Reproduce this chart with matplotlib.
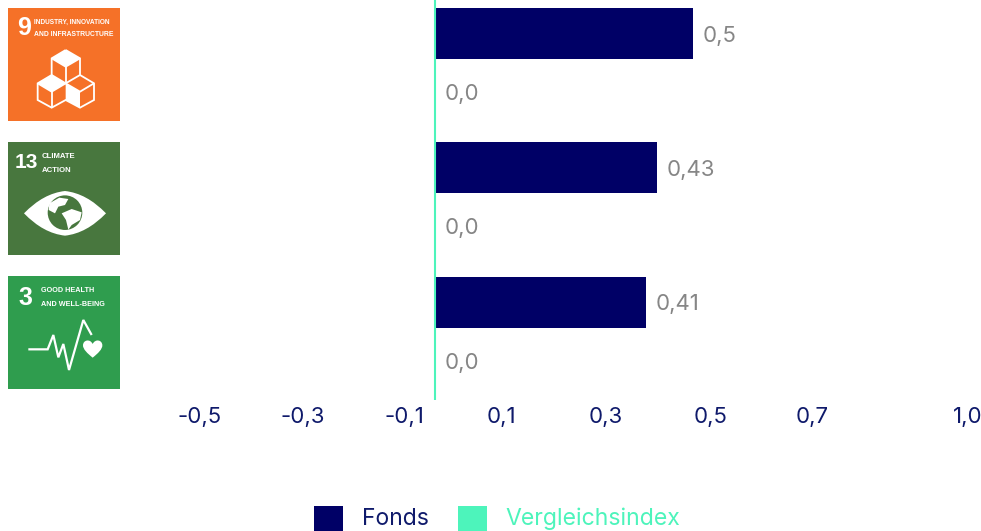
import matplotlib
matplotlib.use("Agg")
import matplotlib.pyplot as plt
from matplotlib.patches import Rectangle, Circle, Polygon, PathPatch
from matplotlib.path import Path

# Data
goals = ["SDG 9", "SDG 13", "SDG 3"]
fonds = [0.5, 0.43, 0.41]
index = [0.0, 0.0, 0.0]
fonds_labels = ["0,5", "0,43", "0,41"]
index_labels = ["0,0", "0,0", "0,0"]
tick_pos = [-0.457, -0.257, -0.06, 0.128, 0.332, 0.534, 0.732, 1.034]
tick_labels = ["-0,5", "-0,3", "-0,1", "0,1", "0,3", "0,5", "0,7", "1,0"]

NAVY = "#000066"
TICK = "#0F1A6B"
MINT = "#4DF4BB"
GREY = "#868686"
FONT = ["Inter", "DejaVu Sans"]
NARROW = ["Liberation Sans", "DejaVu Sans"]

W, H = 981, 531
fig = plt.figure(figsize=(W / 100, H / 100), dpi=100)
plt.rcParams["font.family"] = FONT

# Bars, pixel layout: x=0 at 435, 515.5 px per unit, 134.4 px per group
ax = fig.add_axes([120 / W, 1 - 400 / H, (W - 120) / W, 400 / H])
ax.set_xlim((120 - 435) / 515.5, (W - 435) / 515.5)
ax.set_ylim((400 - 62.75) / 134.4, -62.75 / 134.4)
ys = list(range(len(goals)))
ax.barh([y - 0.2176 for y in ys], fonds, height=0.38, color=NAVY)
ax.barh([y + 0.2176 for y in ys], index, height=0.38, color=MINT)
ax.axvline(0, color=MINT, lw=1.5)
for y, v, s in zip(ys, fonds, fonds_labels):
    ax.annotate(s, (v, y - 0.2176), xytext=(7, -1.5), textcoords="offset points",
                va="center", ha="left", color=GREY, fontsize=16)
for y, v, s in zip(ys, index, index_labels):
    ax.annotate(s, (v, y + 0.2176), xytext=(7, -1.5), textcoords="offset points",
                va="center", ha="left", color=GREY, fontsize=16)
ax.set_xticks(tick_pos)
ax.set_xticklabels(tick_labels, color=TICK, fontsize=16)
ax.tick_params(axis="x", length=0, pad=5)
ax.set_yticks([])
for sp in ax.spines.values():
    sp.set_visible(False)
ax.patch.set_alpha(0)

# Overlay in pixel coordinates for the icons and the legend
ov = fig.add_axes([0, 0, 1, 1], zorder=3)
ov.set_xlim(0, W)
ov.set_ylim(H, 0)
ov.axis("off")


def pts(coords, dy):
    return [(x / 3, y / 3 + dy) for x, y in coords]


def line(coords, dy, lw=1.3):
    xs, ys_ = zip(*pts(coords, dy))
    ov.plot(xs, ys_, color="white", lw=lw, solid_joinstyle="miter", solid_capstyle="butt")


def fill(coords, dy):
    ov.add_patch(Polygon(pts(coords, dy), closed=True, fc="white", ec="none"))


def squeezed(x, y, s, size):
    ov.text(x, y, s, color="white", fontsize=size, family=NARROW, weight="bold",
            va="center", ha="left")


# SDG 9
ov.add_patch(Rectangle((8, 8), 112, 113, fc="#F57128", ec="none"))
squeezed(17.5, 28, "9", 18)
squeezed(34.5, 22.5, "INDUSTRY, INNOVATION", 4.7)
squeezed(34.5, 35, "AND INFRASTRUCTURE", 4.9)
fill([(197, 150), (240, 175), (197, 200), (155, 175)], 0)
fill([(155, 225), (197, 250), (155, 275), (113, 250)], 0)
fill([(197, 250), (240, 275), (240, 323), (197, 300)], 0)
line([(197, 150), (240, 175), (240, 225), (282, 250), (282, 300), (240, 323), (197, 300),
      (155, 323), (113, 300), (113, 250), (155, 225), (155, 175), (197, 150)], 0)
line([(155, 175), (197, 200), (240, 175)], 0)
line([(197, 200), (197, 250)], 0)
line([(155, 225), (197, 250), (240, 225)], 0)
line([(113, 250), (155, 275), (197, 250)], 0)
line([(155, 275), (155, 323)], 0)
line([(197, 250), (240, 275), (282, 250)], 0)

# SDG 13
ov.add_patch(Rectangle((8, 142), 112, 113, fc="#48773E", ec="none"))
squeezed(15, 163, "13", 15)
squeezed(42, 156.5, "CLIMATE", 5.6)
squeezed(42, 170, "ACTION", 5.6)
eye = [(72, 235), (130, 175), (195, 168), (260, 175), (318, 235), (260, 295), (195, 302), (130, 295), (72, 235)]
codes = [Path.MOVETO] + [Path.CURVE3] * 8
ov.add_patch(PathPatch(Path(pts(eye, 135), codes), fc="white", ec="none"))
ov.add_patch(Circle((195 / 3, 233 / 3 + 135), 17.3, fc="#48773E", ec="none"))
fill([(148, 205), (178, 188), (205, 192), (195, 210), (175, 215), (165, 235), (146, 225)], 135)
fill([(185, 235), (215, 222), (245, 232), (240, 255), (215, 270), (205, 284), (198, 255)], 135)

# SDG 3
ov.add_patch(Rectangle((8, 276), 112, 113, fc="#2F9D4E", ec="none"))
squeezed(18.5, 298, "3", 18)
squeezed(41, 291, "GOOD HEALTH", 5.2)
squeezed(41, 304, "AND WELL-BEING", 5.2)
line([(85, 238), (143, 238), (160, 195), (175, 262), (190, 222), (207, 300), (250, 150), (275, 195)], 270, lw=1.6)
heart = [(278, 263), (262, 250), (249, 238), (249, 226), (249, 210), (270, 205), (278, 222),
         (286, 205), (307, 210), (307, 226), (307, 238), (294, 250), (278, 263)]
heart_codes = [Path.MOVETO] + [Path.CURVE4] * 12
ov.add_patch(PathPatch(Path(pts(heart, 270), heart_codes), fc="white", ec="none"))

# Legend
ov.add_patch(Rectangle((314, 506), 29, 25, fc=NAVY, ec="none"))
ov.text(362, 519, "Fonds", color=TICK, fontsize=16.5, va="center", ha="left")
ov.add_patch(Rectangle((458, 506), 29, 25, fc=MINT, ec="none"))
ov.text(505, 519, "Vergleichsindex", color=MINT, fontsize=16.6, va="center", ha="left")

fig.savefig("out.png", dpi=100)
